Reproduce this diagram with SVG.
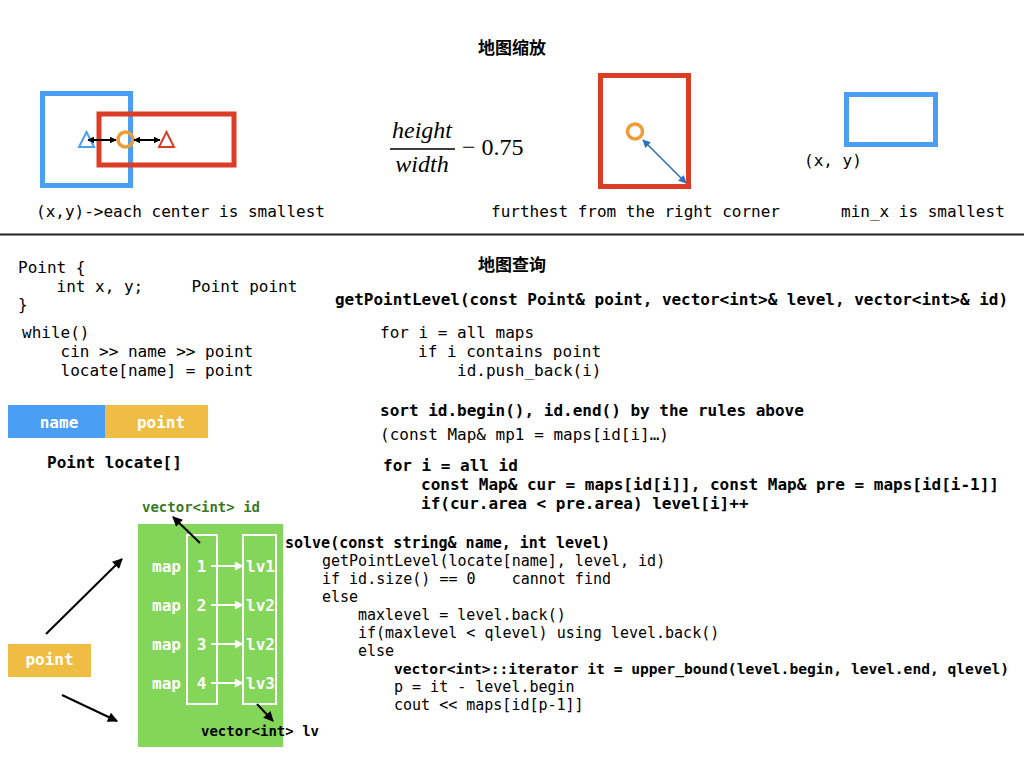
<svg xmlns="http://www.w3.org/2000/svg" width="1024" height="768" viewBox="0 0 1024 768">
<defs>
<style>
.m{font-family:"DejaVu Sans Mono","Liberation Mono",monospace;font-size:16px;fill:#000}
.b{font-weight:bold}
.w{fill:#fff;font-weight:bold}
.t{font-family:"Noto Sans CJK SC",sans-serif;font-size:17px;font-weight:bold;fill:#000}
.f{font-family:"Liberation Serif",serif;font-size:24px;fill:#000}
.bl{fill:none;stroke:#4A9FF5;stroke-width:5}
.rd{fill:none;stroke:#DB3D27;stroke-width:5}
.ar{stroke:#000;stroke-width:2;fill:none}
.wa{stroke:#fff;stroke-width:2;fill:none}
</style>
<marker id="ah" viewBox="0 0 10 10" refX="9" refY="5" markerWidth="7" markerHeight="7" markerUnits="userSpaceOnUse" orient="auto-start-reverse"><path d="M0,0L10,5L0,10z" fill="#000"/></marker>
<marker id="ahb" viewBox="0 0 10 10" refX="9" refY="5" markerWidth="12" markerHeight="10" markerUnits="userSpaceOnUse" orient="auto-start-reverse"><path d="M0,0L10,5L0,10z" fill="#000"/></marker>
<marker id="ahl" viewBox="0 0 10 10" refX="9" refY="5" markerWidth="9" markerHeight="8" markerUnits="userSpaceOnUse" orient="auto-start-reverse"><path d="M0,0L10,5L0,10z" fill="#2F70BE"/></marker>
<marker id="ahw" viewBox="0 0 10 10" refX="9" refY="5" markerWidth="10" markerHeight="9" markerUnits="userSpaceOnUse" orient="auto"><path d="M0,0L10,5L0,10z" fill="#fff"/></marker>
</defs>
<rect width="1024" height="768" fill="#fff"/>
<text class="t" x="512" y="54" text-anchor="middle">地图缩放</text>
<line x1="0" y1="234.5" x2="1024" y2="234.5" stroke="#222" stroke-width="2"/>
<text class="t" x="512" y="271" text-anchor="middle">地图查询</text>

<g id="rule-center">
<rect class="bl" x="42.5" y="93.5" width="88" height="92"/>
<rect class="rd" x="99" y="114" width="135" height="51"/>
<polygon points="86.5,132 79,147 94,147" fill="none" stroke="#4A9FF5" stroke-width="2"/>
<polygon points="166.5,132 159,147 174,147" fill="none" stroke="#DB3D27" stroke-width="2"/>
<circle cx="125.5" cy="139.5" r="7.5" fill="none" stroke="#F19A38" stroke-width="3.5"/>
<line x1="88" y1="140" x2="116" y2="140" stroke="#000" stroke-width="2" marker-start="url(#ah)" marker-end="url(#ah)"/>
<line x1="134" y1="140" x2="160" y2="140" stroke="#000" stroke-width="2" marker-start="url(#ah)" marker-end="url(#ah)"/>
<text class="m" x="36" y="217">(x,y)-&gt;each center is smallest</text>
</g>

<g id="rule-ratio">
<text class="f" x="422" y="138" text-anchor="middle" font-style="italic">height</text>
<line x1="390" y1="149" x2="455" y2="149" stroke="#000" stroke-width="1.3"/>
<text class="f" x="422" y="172" text-anchor="middle" font-style="italic">width</text>
<text class="f" x="462" y="155">− 0.75</text>
</g>

<g id="rule-corner">
<rect class="rd" x="600.5" y="75.5" width="88" height="111"/>
<circle cx="635" cy="131.5" r="7.5" fill="none" stroke="#F19A38" stroke-width="3.5"/>
<line x1="643" y1="140" x2="686" y2="183" stroke="#2F70BE" stroke-width="1.6" marker-start="url(#ahl)" marker-end="url(#ahl)"/>
<text class="m" x="491" y="217">furthest from the right corner</text>
</g>

<g id="rule-minx">
<rect class="bl" x="846.5" y="94.5" width="89" height="50"/>
<text class="m" x="804" y="166">(x, y)</text>
<text class="m" x="841" y="217">min_x is smallest</text>
</g>

<g id="input-code">
<text class="m" x="18" y="273">Point {</text>
<text class="m" x="18" y="292" xml:space="preserve">    int x, y;     Point point</text>
<text class="m" x="18" y="310">}</text>
<text class="m" x="22" y="338">while()</text>
<text class="m" x="22" y="357" xml:space="preserve">    cin &gt;&gt; name &gt;&gt; point</text>
<text class="m" x="22" y="376" xml:space="preserve">    locate[name] = point</text>
</g>

<g id="locate-row">
<rect x="8" y="405" width="97" height="33" fill="#4A9FF5"/>
<rect x="105" y="405" width="103" height="33" fill="#EFBD43"/>
<text class="m w" x="59" y="428" text-anchor="middle">name</text>
<text class="m w" x="161" y="428" text-anchor="middle">point</text>
<text class="m b" x="47" y="468">Point locate[]</text>
</g>

<g id="point-node">
<rect x="8" y="644" width="83" height="33" fill="#EFBD43"/>
<text class="m w" x="49.5" y="665" text-anchor="middle">point</text>
</g>

<g id="map-table">
<rect x="138" y="524" width="145" height="223" fill="#84D65A"/>
<rect x="187" y="535" width="30" height="169" fill="none" stroke="#fff" stroke-width="2"/>
<rect x="243" y="535" width="33" height="169" fill="none" stroke="#fff" stroke-width="2"/>
<g class="m w">
<text x="152" y="572">map</text><text x="152" y="611">map</text><text x="152" y="650">map</text><text x="152" y="689">map</text>
<text x="201.5" y="572" text-anchor="middle">1</text><text x="201.5" y="611" text-anchor="middle">2</text><text x="201.5" y="650" text-anchor="middle">3</text><text x="201.5" y="689" text-anchor="middle">4</text>
<text x="246" y="572">lv1</text><text x="246" y="611">lv2</text><text x="246" y="650">lv2</text><text x="246" y="689">lv3</text>
</g>
<text class="m b" x="142" y="512" style="font-size:14px;fill:#3A7A1F">vector&lt;int&gt; id</text>
<text class="m b" x="201" y="736" style="font-size:14px">vector&lt;int&gt; lv</text>
</g>

<g id="connectors">
<line class="wa" x1="211" y1="566" x2="243" y2="566" marker-end="url(#ahw)"/>
<line class="wa" x1="211" y1="605" x2="243" y2="605" marker-end="url(#ahw)"/>
<line class="wa" x1="211" y1="644" x2="243" y2="644" marker-end="url(#ahw)"/>
<line class="wa" x1="211" y1="683" x2="243" y2="683" marker-end="url(#ahw)"/>
<line class="ar" x1="200" y1="543" x2="173" y2="517" marker-end="url(#ahb)"/>
<line class="ar" x1="257" y1="704" x2="273" y2="721" marker-end="url(#ahb)"/>
<line class="ar" x1="46" y1="634" x2="122" y2="559" marker-end="url(#ahb)"/>
<line class="ar" x1="62" y1="695" x2="117" y2="721" marker-end="url(#ahb)"/>
</g>

<g id="getpointlevel-code">
<text class="m b" x="335" y="305" textLength="673" lengthAdjust="spacingAndGlyphs">getPointLevel(const Point&amp; point, vector&lt;int&gt;&amp; level, vector&lt;int&gt;&amp; id)</text>
<text class="m" x="380" y="338">for i = all maps</text>
<text class="m" x="418" y="357">if i contains point</text>
<text class="m" x="457" y="376">id.push_back(i)</text>
<text class="m b" x="380" y="416">sort id.begin(), id.end() by the rules above</text>
<text class="m" x="380" y="440">(const Map&amp; mp1 = maps[id[i]…)</text>
<text class="m b" x="383" y="471">for i = all id</text>
<text class="m b" x="421" y="490">const Map&amp; cur = maps[id[i]], const Map&amp; pre = maps[id[i-1]]</text>
<text class="m b" x="421" y="509">if(cur.area &lt; pre.area) level[i]++</text>
</g>

<g id="solve-code">
<text class="m b" x="285" y="548" style="font-size:15px">solve(const string&amp; name, int level)</text>
<text class="m" x="322" y="566" style="font-size:15px">getPointLevel(locate[name], level, id)</text>
<text class="m" x="322" y="584" style="font-size:15px" xml:space="preserve">if id.size() == 0    cannot find</text>
<text class="m" x="322" y="602" style="font-size:15px">else</text>
<text class="m" x="358" y="620" style="font-size:15px">maxlevel = level.back()</text>
<text class="m" x="358" y="638" style="font-size:15px">if(maxlevel &lt; qlevel) using level.back()</text>
<text class="m" x="358" y="656" style="font-size:15px">else</text>
<text class="m b" x="394" y="674" style="font-size:14.6px">vector&lt;int&gt;::iterator it = upper_bound(level.begin, level.end, qlevel)</text>
<text class="m" x="394" y="692" style="font-size:15px">p = it - level.begin</text>
<text class="m" x="394" y="710" style="font-size:15px">cout &lt;&lt; maps[id[p-1]]</text>
</g>
</svg>
